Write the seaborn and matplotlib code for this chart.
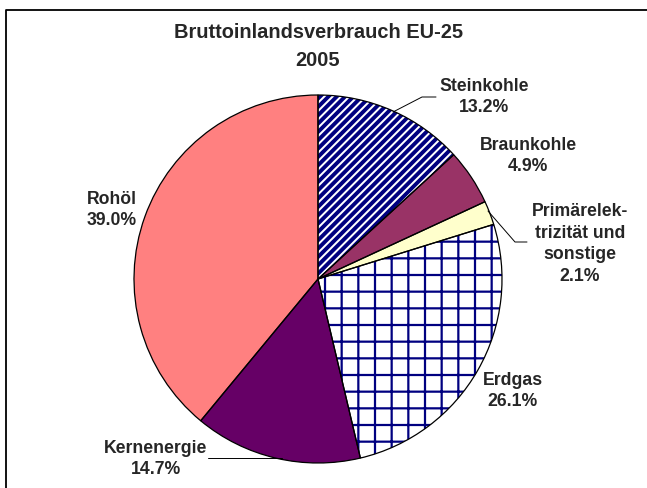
import matplotlib
matplotlib.use("Agg")
import matplotlib.pyplot as plt
import seaborn as sns
from matplotlib.lines import Line2D

# ---- data ----
categories = ["Steinkohle", "Braunkohle", "Primärelek-\ntrizität und\nsonstige", "Erdgas", "Kernenergie", "Rohöl"]
shares = [13.2, 4.9, 2.1, 26.1, 14.7, 39.0]
title_lines = ["Bruttoinlandsverbrauch EU-25", "2005"]

# ---- style ----
sns.set_theme(style="white")
plt.rcParams['font.family'] = ['Liberation Sans', 'DejaVu Sans']
plt.rcParams['hatch.linewidth'] = 1.6

face_colors = ["white", "#993366", "#FFFFCC", "white", "#660066", "#FF8080"]
hatches = ["////", None, None, "+", None, None]
hatch_lw = [2.8, None, None, 1.6, None, None]

W, H = 647, 489
fig = plt.figure(figsize=(W / 100, H / 100), dpi=100)
fig.patch.set_facecolor("white")

cx, cy, r = 318, 280, 184
ax = fig.add_axes([(cx - r) / W, (H - cy - r) / H, 2 * r / W, 2 * r / H])

# pass 1: fills + hatches (hatch colour = edge colour navy)
wedges, _ = ax.pie(shares, colors=face_colors, startangle=90, counterclock=False,
                   wedgeprops=dict(linewidth=0, edgecolor="#000080"))
for w, h, lw in zip(wedges, hatches, hatch_lw):
    if h:
        w.set_hatch(h)
        if hasattr(w, "set_hatch_linewidth"):
            w.set_hatch_linewidth(lw)
# pass 2: black outlines
ax.pie(shares, startangle=90, counterclock=False,
       wedgeprops=dict(fill=False, linewidth=0.9, edgecolor="black"))
ax.set_xlim(-1.0, 1.0)
ax.set_ylim(-1.0, 1.0)
ax.axis("off")


def px(x, y):
    return x / W, 1 - y / H


# title
fig.text(*px(318, 33), title_lines[0], ha="center", va="center", fontsize=14.4, fontweight="bold")
fig.text(*px(318, 60), title_lines[1], ha="center", va="center", fontsize=14.4, fontweight="bold")

# label positions (pixel centres of text blocks)
label_pos = {
    "Steinkohle": (484, 97),
    "Braunkohle": (528, 156),
    "Primärelek-\ntrizität und\nsonstige": (580, 244),
    "Erdgas": (513, 391),
    "Kernenergie": (156, 459),
    "Rohöl": (112, 210),
}
for cat, val in zip(categories, shares):
    x, y = label_pos[cat]
    fig.text(*px(x, y), f"{cat}\n{val:.1f}%", ha="center", va="center",
             fontsize=12.7, fontweight="bold", linespacing=1.38)

# leader lines
leaders = [
    [(393, 113), (422, 98), (436, 98)],
    [(488, 212), (515, 243), (527, 243)],
    [(208, 459), (282, 459)],
]
for pts in leaders:
    xs = [p[0] / W for p in pts]
    ys = [1 - p[1] / H for p in pts]
    fig.add_artist(Line2D(xs, ys, color="black", linewidth=0.7, transform=fig.transFigure))

# chart area border (extends past right and bottom)
fig.add_artist(Line2D([5.5 / W, 5.5 / W, 1.0], [0.0, 1 - 10.5 / H, 1 - 10.5 / H],
                      color="black", linewidth=1.3, transform=fig.transFigure))

fig.savefig("out.png", dpi=100, facecolor="white")
